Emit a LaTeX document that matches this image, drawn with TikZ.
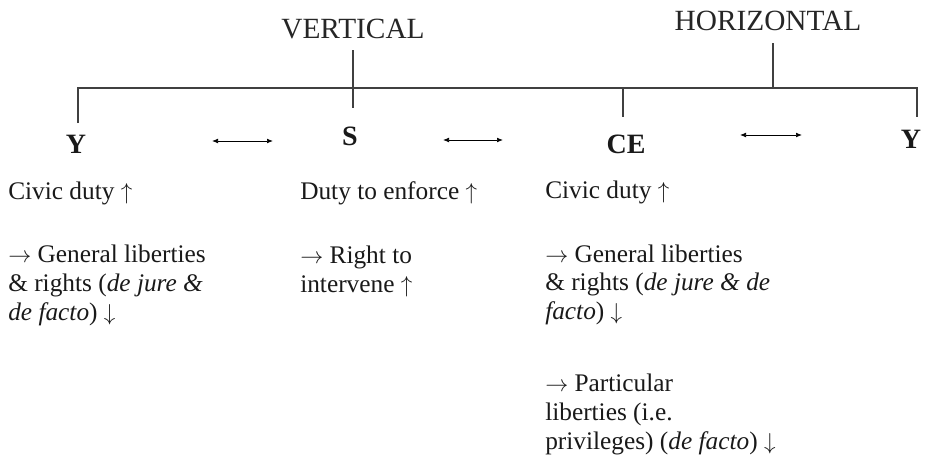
\documentclass[tikz,border=0pt]{standalone}
\usepackage{fontspec}
\setmainfont{Liberation Serif}
\usetikzlibrary{arrows.meta}

\begin{document}
\begin{tikzpicture}[x=0.75pt,y=-0.75pt,
  bar/.style={draw=black!75,line width=0.8pt},
  dbl/.style={{Latex[length=4.5pt,width=3.5pt]}-{Latex[length=4.5pt,width=3.5pt]},line width=0.5pt},
  actor/.style={font=\fontsize{21}{24}\selectfont\bfseries,text=black!90,inner sep=0pt,anchor=base},
  head/.style={font=\fontsize{22}{26}\selectfont,text=black!85,inner sep=0pt,anchor=base},
  body/.style={font=\fontsize{19}{21.4}\selectfont,text=black!90,inner sep=0pt,anchor=base west,align=left}]
\useasboundingbox (0,0) rectangle (926,461);

% headings
\node[head] (vlabel) at (353,38) {VERTICAL};
\node[head] (hlabel) at (768,30) {HORIZONTAL};

% actors
\node[actor] (yl) at (76,153) {Y};
\node[actor] (st) at (350,145) {S};
\node[actor] (ce) at (626,153) {CE};
\node[actor] (yr) at (911,148) {Y};

% bracket corners and line ends
\coordinate (hl) at (78,88);
\coordinate (hm) at (623,88);
\coordinate (hr) at (917,88);
\coordinate (yldrop) at (78,123);
\coordinate (cedrop) at (623,117);
\coordinate (yrdrop) at (917,117);
\coordinate (vtop) at (353,50);
\coordinate (vbot) at (353,108);
\coordinate (htop) at (773,43);
\coordinate (hmid) at (773,88);

\draw[bar] (yldrop) -- (hl) -- (hm) -- (cedrop);
\draw[bar] (hm) -- (hr) -- (yrdrop);
\draw[bar] (vtop) -- (vbot);
\draw[bar] (htop) -- (hmid);
\draw[bar,line width=1.4pt] (338,88) -- (358,88);

% double arrows between the actors
\coordinate (a1l) at (212,141);
\coordinate (a1r) at (273,141);
\coordinate (a2l) at (443,140);
\coordinate (a2r) at (503,140);
\coordinate (a3l) at (740,135);
\coordinate (a3r) at (802,135);
\draw[dbl] (a1l) -- (a1r);
\draw[dbl] (a2l) -- (a2r);
\draw[dbl] (a3l) -- (a3r);

% columns of text (placed by the baseline of their last line)
\node[body] (tyl) at (8,320) {Civic duty $\uparrow$\\[26.5pt]
  $\rightarrow$ General liberties\\
  \& rights (\textit{de jure \&}\\
  \textit{de facto}) $\downarrow$};
\node[body] (tst) at (300,292) {Duty to enforce $\uparrow$\\[26.5pt]
  $\rightarrow$ Right to\\
  intervene $\uparrow$};
\node[body] (tce) at (545,449) {Civic duty $\uparrow$\\[26.5pt]
  $\rightarrow$ General liberties\\
  \& rights (\textit{de jure \& de}\\
  \textit{facto}) $\downarrow$\\[33pt]
  $\rightarrow$ Particular\\
  liberties (i.e.\\
  privileges) (\textit{de facto}) $\downarrow$};
\end{tikzpicture}
\end{document}
